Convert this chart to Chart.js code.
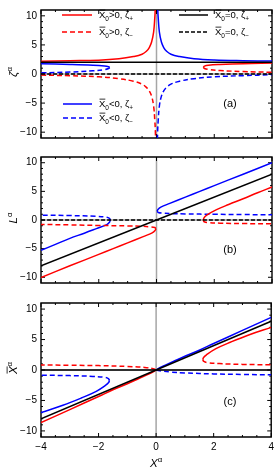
<!DOCTYPE html>
<html>
<head>
<meta charset="utf-8">
<script src="https://cdn.jsdelivr.net/npm/chart.js@4.4.0/dist/chart.umd.min.js"></script>
<style>
html, body { margin:0; padding:0; background:#fff; }
#wrap { position:relative; width:278px; height:470px; }
#wrap canvas { position:absolute; left:0; }
</style>
</head>
<body>
<div id="wrap">
  <canvas id="pa" width="278" height="148" style="top:0"></canvas>
  <canvas id="pb" width="278" height="146" style="top:147px"></canvas>
  <canvas id="pc" width="278" height="177" style="top:293px"></canvas>
</div>
<script>
// ticks
var xTicks = [-4, -2, 0, 2, 4];
var xMinor = [-3.5, -3, -2.5, -1.5, -1, -0.5, 0.5, 1, 1.5, 2.5, 3, 3.5];
var yTicks = [-10, -5, 0, 5, 10];
var yMinor = [-9, -8, -7, -6, -4, -3, -2, -1, 1, 2, 3, 4, 6, 7, 8, 9];

// legend text pieces
var legendRel = ['>0', '>0', '=0', '=0', '<0', '<0'];
var legendSub = ['+', '\u2212', '+', '\u2212', '+', '\u2212'];

// panel (a): zeta
var zBlackPlus  = [[-4, 2], [4, 2]];
var zBlackMinus = [[-4, 0], [4, 0]];
var zRedPlusL  = [[-4, 2.2], [-3, 2.28], [-2, 2.38], [-1.3, 2.62], [-0.8, 3.0], [-0.5, 3.4], [-0.35, 3.9], [-0.25, 4.55], [-0.17, 5.5], [-0.1, 7.2], [-0.06, 9.6], [-0.04, 11.5], [-0.02, 16]];
var zRedMinusL = [[-4, -0.18], [-3, -0.3], [-2, -0.48], [-1.3, -0.8], [-0.8, -1.24], [-0.5, -1.75], [-0.35, -2.3], [-0.25, -2.9], [-0.17, -3.8], [-0.1, -5.5], [-0.06, -7.9], [-0.04, -9.8], [-0.02, -14]];
var zRedPlusR  = [[1.62, 1.15], [1.66, 1.35], [1.8, 1.5], [2.2, 1.63], [3, 1.78], [4, 1.87]];
var zRedMinusR = [[1.62, 1.15], [1.66, 0.95], [1.8, 0.78], [2.2, 0.6], [3, 0.42], [4, 0.3]];
var zBluePlusL  = [[-4, 1.75], [-3, 1.65], [-2.2, 1.52], [-1.8, 1.38], [-1.66, 1.25], [-1.62, 1.12]];
var zBlueMinusL = [[-1.62, 1.12], [-1.66, 0.95], [-1.8, 0.75], [-2.2, 0.55], [-3, 0.33], [-4, 0.2]];
var zBluePlusR  = [[0.02, 16], [0.04, 11.5], [0.06, 9.6], [0.1, 7.2], [0.17, 5.5], [0.25, 4.55], [0.35, 3.9], [0.5, 3.4], [0.8, 3.0], [1.3, 2.62], [2, 2.4], [3, 2.28], [4, 2.22]];
var zBlueMinusR = [[0.02, -14], [0.04, -9.8], [0.06, -7.9], [0.1, -5.5], [0.17, -3.8], [0.25, -2.9], [0.35, -2.3], [0.5, -1.75], [0.8, -1.24], [1.3, -0.8], [2, -0.48], [3, -0.28], [4, -0.12]];

// panel (b): L
var lBlackPlus  = [[-4, -8], [4, 8]];
var lBlackMinus = [[-4, 0], [4, 0]];
var lRedPlusL  = [[-0.02, -1.5], [-0.05, -1.85], [-0.15, -2.25], [-0.46, -2.9], [-1, -4.0], [-1.5, -5.0], [-2, -6.0], [-3, -8.0], [-4, -10.05]];
var lRedMinusL = [[-0.02, -1.5], [-0.06, -1.32], [-0.2, -1.2], [-0.5, -1.1], [-1, -1.03], [-2, -0.95], [-3, -0.85], [-4, -0.78]];
var lRedPlusR  = [[1.62, 0], [1.65, 0.42], [1.74, 0.85], [2.08, 1.8], [2.5, 2.7], [3, 3.7], [3.5, 4.75], [4, 5.75]];
var lRedMinusR = [[1.62, 0], [1.65, -0.3], [1.8, -0.45], [2.2, -0.55], [3, -0.62], [4, -0.66]];
var lBluePlusL  = [[-1.6, 0], [-1.63, -0.4], [-1.72, -0.8], [-2.08, -1.5], [-2.5, -2.3], [-3, -3.2], [-3.5, -4.25], [-4, -5.3]];
var lBlueMinusL = [[-1.6, 0], [-1.63, 0.3], [-1.75, 0.5], [-2.1, 0.65], [-3, 0.78], [-4, 0.85]];
var lBluePlusR  = [[0.02, 1.5], [0.05, 1.85], [0.15, 2.25], [0.46, 2.9], [1, 4.0], [1.5, 5.0], [2, 6.0], [3, 8.0], [4, 10.0]];
var lBlueMinusR = [[0.02, 1.5], [0.06, 1.32], [0.2, 1.2], [0.5, 1.12], [1, 1.06], [2, 1.0], [3, 0.95], [4, 0.92]];

// panel (c): X bar
var cBlackPlus  = [[-4, -8], [4, 8]];
var cBlackMinus = [[-4, 0], [4, 0]];
var cRedPlusL  = [[0, 0], [-0.1, -0.3], [-0.3, -0.75], [-0.6, -1.4], [-1, -2.25], [-1.5, -3.25], [-2, -4.35], [-3, -6.5], [-4, -8.65]];
var cRedMinusL = [[0, 0], [-0.1, 0.2], [-0.4, 0.42], [-1, 0.58], [-2, 0.72], [-3, 0.78], [-4, 0.82]];
var cRedPlusR  = [[1.62, 1.7], [1.65, 2.05], [1.75, 2.5], [2.08, 3.5], [2.6, 4.6], [3.24, 5.8], [4, 7.0]];
var cRedMinusR = [[1.62, 1.7], [1.66, 1.4], [1.8, 1.2], [2.2, 1.05], [3, 0.92], [4, 0.85]];
var cBluePlusL  = [[-1.62, -1.7], [-1.65, -2.05], [-1.75, -2.5], [-2.08, -3.5], [-2.6, -4.6], [-3.24, -5.8], [-4, -7.0]];
var cBlueMinusL = [[-1.62, -1.7], [-1.66, -1.4], [-1.8, -1.2], [-2.2, -1.05], [-3, -0.92], [-4, -0.85]];
var cBluePlusR  = [[0, 0], [0.1, 0.3], [0.3, 0.75], [0.6, 1.4], [1, 2.25], [1.5, 3.25], [2, 4.35], [3, 6.5], [4, 8.65]];
var cBlueMinusR = [[0, 0], [0.2, -0.17], [0.5, -0.33], [1, -0.48], [2, -0.64], [3, -0.73], [4, -0.8]];

var RED = '#ff0000', BLUE = '#0000ff', BLK = '#000000';
var FONT = '"Liberation Sans", Arial, sans-serif';

function fmt(v) { return v < 0 ? '\u2212' + Math.abs(v) : '' + v; }

function dashFor(color) { return color === BLK ? [4, 2] : [5, 3]; }

function drawRich(ctx, segs, x, y, size) {
    var cx = x;
    segs.forEach(function(s) {
        var fs = (s.sub || s.sup) ? size * 0.68 : size;
        ctx.font = (s.it ? 'italic ' : '') + fs + 'px ' + FONT;
        var dy = s.sub ? size * 0.3 : (s.sup ? -size * 0.45 : 0);
        ctx.fillText(s.t, cx, y + dy);
        var w = ctx.measureText(s.t).width;
        if (s.bar) {
            ctx.save();
            ctx.setLineDash([]);
            ctx.lineWidth = 0.8;
            ctx.beginPath();
            ctx.moveTo(cx + 0.5, y - size * 0.86);
            ctx.lineTo(cx + w, y - size * 0.86);
            ctx.stroke();
            ctx.restore();
        }
        cx += w;
    });
    return cx - x;
}

function richWidth(ctx, segs, size) {
    var w = 0;
    segs.forEach(function(s) {
        var fs = (s.sub || s.sup) ? size * 0.68 : size;
        ctx.font = (s.it ? 'italic ' : '') + fs + 'px ' + FONT;
        w += ctx.measureText(s.t).width;
    });
    return w;
}

function legendSegs(i) {
    return [{t: 'X', bar: true}, {t: '0', sub: true}, {t: legendRel[i] + ', '}, {t: '\u03b6'}, {t: legendSub[i], sub: true}];
}

function drawLegend(ctx) {
    var rows = [
        [0, RED, false, 62, 92, 15, 99],
        [1, RED, true, 62, 92, 32, 99],
        [2, BLK, false, 179, 208, 15, 215],
        [3, BLK, true, 179, 208, 32, 215],
        [4, BLUE, false, 63, 92, 104, 99],
        [5, BLUE, true, 63, 92, 118, 99]
    ];
    rows.forEach(function(r) {
        ctx.save();
        ctx.strokeStyle = r[1];
        ctx.lineWidth = 1.5;
        ctx.setLineDash(r[2] ? dashFor(r[1]) : []);
        ctx.beginPath();
        ctx.moveTo(r[3], r[5]);
        ctx.lineTo(r[4], r[5]);
        ctx.stroke();
        ctx.restore();
        ctx.fillStyle = '#000';
        ctx.strokeStyle = '#000';
        drawRich(ctx, legendSegs(r[0]), r[6], r[5] + 3.3, 9.5);
    });
}

function makePanel(id, series, title, tag, showX, padTop, padBottom) {
    var sets = series.map(function(s) {
        return {
            data: s[0].map(function(p) { return {x: p[0], y: p[1]}; }),
            borderColor: s[1],
            borderDash: s[2] ? dashFor(s[1]) : [],
            borderWidth: 1.5,
            showLine: true,
            pointRadius: 0,
            tension: 0.4,
            fill: false
        };
    });
    var deco = {
        id: 'deco' + id,
        beforeDatasetsDraw: function(chart) {
            var ctx = chart.ctx, a = chart.chartArea;
            var xs = chart.scales.x, ys = chart.scales.y;
            var x0 = xs.getPixelForValue(0);
            var y0 = ys.getPixelForValue(0);
            ctx.save();
            ctx.strokeStyle = '#a6a6a6';
            ctx.lineWidth = 1.5;
            ctx.beginPath();
            ctx.moveTo(x0, a.top); ctx.lineTo(x0, a.bottom);
            ctx.moveTo(a.left, y0); ctx.lineTo(a.right, y0);
            ctx.stroke();
            // frame and inward ticks
            ctx.strokeStyle = 'black';
            ctx.lineWidth = 1.4;
            ctx.beginPath();
            ctx.moveTo(a.left, a.top);
            ctx.lineTo(a.right, a.top);
            ctx.lineTo(a.right, a.bottom);
            ctx.lineTo(a.left, a.bottom);
            ctx.closePath();
            ctx.stroke();
            ctx.lineWidth = 1;
            ctx.beginPath();
            xTicks.concat(xMinor).forEach(function(v) {
                var len = xTicks.indexOf(v) >= 0 ? 4 : 2;
                var px = xs.getPixelForValue(v);
                ctx.moveTo(px, a.bottom); ctx.lineTo(px, a.bottom - len);
                ctx.moveTo(px, a.top); ctx.lineTo(px, a.top + len);
            });
            yTicks.concat(yMinor).forEach(function(v) {
                var len = yTicks.indexOf(v) >= 0 ? 4 : 2;
                var py = ys.getPixelForValue(v);
                ctx.moveTo(a.left, py); ctx.lineTo(a.left + len, py);
                ctx.moveTo(a.right, py); ctx.lineTo(a.right - len, py);
            });
            ctx.stroke();
            ctx.restore();
        },
        afterDraw: function(chart) {
            var ctx = chart.ctx, a = chart.chartArea;
            var xs = chart.scales.x, ys = chart.scales.y;
            ctx.save();
            ctx.setLineDash([]);
            ctx.fillStyle = '#000';
            ctx.strokeStyle = '#000';
            // y title
            var tw = richWidth(ctx, title, 11.5);
            ctx.save();
            ctx.translate(17, (a.top + a.bottom) / 2 - 2);
            ctx.rotate(-Math.PI / 2);
            drawRich(ctx, title, -tw / 2, 0, 11.5);
            ctx.restore();
            // panel tag
            ctx.font = '11px ' + FONT;
            ctx.textAlign = 'center';
            ctx.textBaseline = 'middle';
            ctx.fillText(tag, 230, ys.getPixelForValue(-5.2));
            ctx.textAlign = 'left';
            ctx.textBaseline = 'alphabetic';
            if (showX) {
                var xt = [{t: 'X', it: true}, {t: '\u03b1', sup: true}];
                var xw = richWidth(ctx, xt, 11.5);
                drawRich(ctx, xt, xs.getPixelForValue(0) - xw / 2, a.bottom + 30, 11.5);
            }
            if (id === 'pa') drawLegend(ctx);
            ctx.restore();
        }
    };
    return new Chart(document.getElementById(id), {
        type: 'scatter',
        data: { datasets: sets },
        options: {
            responsive: false,
            animation: false,
            devicePixelRatio: 1,
            layout: { padding: { left: 0, right: 6, top: padTop, bottom: padBottom } },
            plugins: { legend: { display: false }, tooltip: { enabled: false } },
            elements: { line: { capBezierPoints: false } },
            scales: {
                x: {
                    type: 'linear', min: -4, max: 4, display: showX,
                    grid: { display: false, drawTicks: false, tickLength: 0 }, border: { display: false },
                    afterBuildTicks: function(s) { s.ticks = xTicks.map(function(v) { return {value: v}; }); },
                    ticks: { callback: fmt, color: '#000', padding: 4, maxRotation: 0, autoSkip: false, font: { family: FONT, size: 10 } },
                    afterFit: function(s) { s.height = showX ? 33 : 0; }
                },
                y: {
                    type: 'linear', min: -11, max: 11,
                    grid: { display: false, drawTicks: false, tickLength: 0 }, border: { display: false },
                    afterBuildTicks: function(s) { s.ticks = yTicks.map(function(v) { return {value: v}; }); },
                    ticks: { callback: fmt, color: '#000', padding: 4, autoSkip: false, font: { family: FONT, size: 10 } },
                    afterFit: function(s) { s.width = 41; }
                }
            }
        },
        plugins: [deco]
    });
}

makePanel('pa', [
    [zBlackPlus, BLK, false], [zBlackMinus, BLK, true],
    [zRedPlusL, RED, false], [zRedMinusL, RED, true], [zRedPlusR, RED, false], [zRedMinusR, RED, true],
    [zBluePlusL, BLUE, false], [zBlueMinusL, BLUE, true], [zBluePlusR, BLUE, false], [zBlueMinusR, BLUE, true]
], [{t: '\u03b6', it: true}, {t: '\u03b1', sup: true}], '(a)', false, 4, 2);

makePanel('pb', [
    [lBlackPlus, BLK, false], [lBlackMinus, BLK, true],
    [lRedPlusL, RED, false], [lRedMinusL, RED, true], [lRedPlusR, RED, false], [lRedMinusR, RED, true],
    [lBluePlusL, BLUE, false], [lBlueMinusL, BLUE, true], [lBluePlusR, BLUE, false], [lBlueMinusR, BLUE, true]
], [{t: 'L', it: true}, {t: '\u03b1', sup: true}], '(b)', false, 1, 2);

makePanel('pc', [
    [cBlackPlus, BLK, false], [cBlackMinus, BLK, false],
    [cRedPlusL, RED, false], [cRedMinusL, RED, true], [cRedPlusR, RED, false], [cRedMinusR, RED, true],
    [cBluePlusL, BLUE, false], [cBlueMinusL, BLUE, true], [cBluePlusR, BLUE, false], [cBlueMinusR, BLUE, true]
], [{t: 'X', it: true, bar: true}, {t: '\u03b1', sup: true}], '(c)', true, 1, 0);
</script>
</body>
</html>
